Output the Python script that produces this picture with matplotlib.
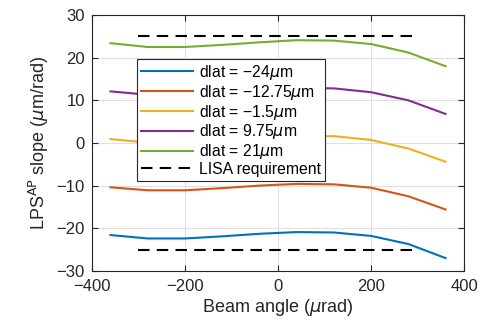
import numpy as np
import matplotlib
matplotlib.use("Agg")
import matplotlib.pyplot as plt

plt.rcParams["font.family"] = ["Liberation Sans", "DejaVu Sans"]
plt.rcParams["mathtext.fontset"] = "dejavusans"

# ── Data ─────────────────────────────────────────────────────────────────────
beam_angle = [-360, -280, -200, -120, -40, 40, 120, 200, 280, 360]
dlat_labels = ["dlat = \u221224$\\mu$m", "dlat = \u221212.75$\\mu$m",
               "dlat = \u22121.5$\\mu$m", "dlat = 9.75$\\mu$m", "dlat = 21$\\mu$m"]
slope_m24 = [-21.6, -22.4, -22.4, -21.9, -21.3, -20.9, -21.0, -21.8, -23.7, -27.0]
slope_m1275 = [-10.4, -11.1, -11.1, -10.6, -10.0, -9.6, -9.7, -10.5, -12.5, -15.6]
slope_m15 = [0.9, 0.1, 0.1, 0.6, 1.1, 1.6, 1.6, 0.7, -1.3, -4.4]
slope_975 = [12.1, 11.3, 11.3, 11.8, 12.4, 12.9, 12.8, 11.9, 10.0, 6.8]
slope_21 = [23.4, 22.5, 22.5, 23.0, 23.6, 24.1, 24.0, 23.2, 21.2, 18.0]
lisa_x = [-300, 300]
lisa_level = 25

colors = ["#0072BD", "#D95319", "#EDB120", "#7E2F8E", "#77AC30"]
series = [slope_m24, slope_m1275, slope_m15, slope_975, slope_21]

fig = plt.figure(figsize=(4.81, 3.34), dpi=100)
ax = fig.add_axes([0.191, 0.189, 0.774, 0.766])

for vals, lab, c in zip(series, dlat_labels, colors):
    ax.plot(beam_angle, vals, color=c, lw=1.5, label=lab)

ax.plot(lisa_x, [lisa_level, lisa_level], "k--", lw=1.5, dashes=(5.5, 3.5),
        label="LISA requirement")
ax.plot(lisa_x, [-lisa_level, -lisa_level], "k--", lw=1.5, dashes=(5.5, 3.5))

ax.set_xlim(-400, 400)
ax.set_ylim(-30, 30)
ax.set_xticks([-400, -200, 0, 200, 400])
ax.set_yticks([-30, -20, -10, 0, 10, 20, 30])
ax.set_xticklabels(["\u2212400", "\u2212200", "0", "200", "400"])
ax.set_yticklabels(["\u221230", "\u221220", "\u221210", "0", "10", "20", "30"])
ax.grid(True, color="#DFDFDF", lw=0.8)
ax.set_axisbelow(True)
ax.tick_params(direction="in", top=True, right=True, labelsize=12,
               colors="#262626", length=4)
ax.tick_params(axis="x", pad=6)
ax.tick_params(axis="y", pad=5)
for s in ax.spines.values():
    s.set_color("#262626")
    s.set_linewidth(0.8)

ax.set_xlabel("Beam angle ($\\mu$rad)", fontsize=13, color="#262626",
              labelpad=2)
ax.set_ylabel("LPS$^{\\mathrm{AP}}$ slope ($\\mu$m/rad)", fontsize=13,
              color="#262626")

leg = ax.legend(loc="upper left", bbox_to_anchor=(0.121, 0.828),
                borderaxespad=0, fontsize=11.3, fancybox=False, framealpha=1,
                edgecolor="#262626", handlelength=3.3, handletextpad=0.4,
                labelspacing=0.05, borderpad=0.25)
leg.get_frame().set_linewidth(0.8)

plt.savefig("out.png", dpi=100)
